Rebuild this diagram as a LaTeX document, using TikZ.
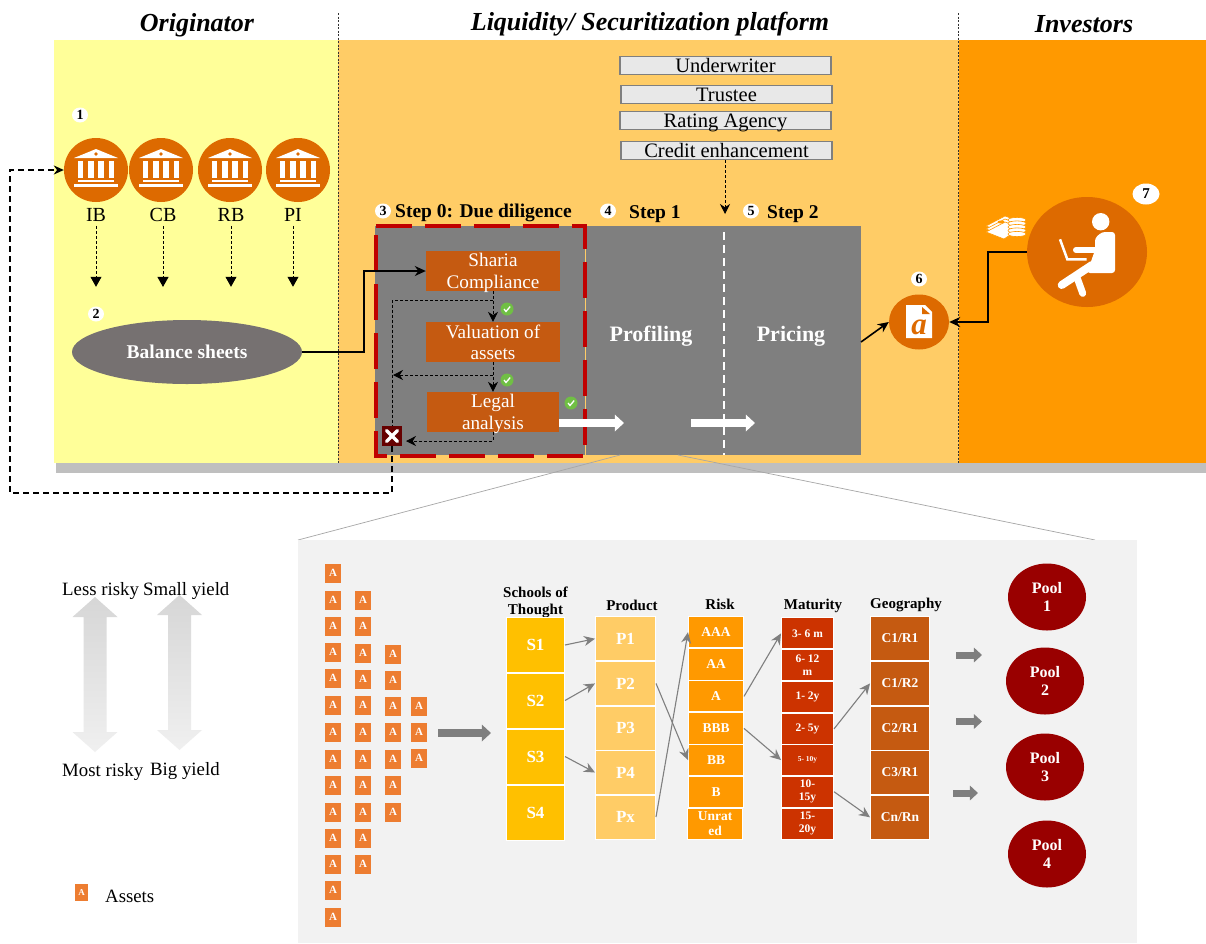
\documentclass[tikz,border=0pt]{standalone}
\usepackage{fontspec}
\setmainfont{Liberation Serif}
\usepackage{tikz}
\usetikzlibrary{arrows.meta,shapes.geometric}

\definecolor{originbg}{HTML}{FFFF99}
\definecolor{platbg}{HTML}{FFCC66}
\definecolor{investbg}{HTML}{FF9900}
\definecolor{burnt}{HTML}{DD6A00}
\definecolor{rust}{HTML}{C55A11}
\definecolor{slate}{HTML}{7F7F7F}
\definecolor{ballgrey}{HTML}{767171}
\definecolor{dashred}{HTML}{C00000}
\definecolor{panel}{HTML}{F2F2F2}
\definecolor{tickgreen}{HTML}{70BF44}
\definecolor{assetor}{HTML}{ED7D31}
\definecolor{poolred}{HTML}{990000}
\definecolor{matred}{HTML}{CC3300}
\definecolor{schoolgold}{HTML}{FFC000}
\newcommand{\fsz}[1]{\fontsize{#1}{1.12\dimexpr#1pt\relax}\selectfont}

\begin{document}
\begin{tikzpicture}[x=1pt,y=-1pt,>={Stealth[length=9pt,width=8pt]},
  title node/.style={font=\fsz{26}\bfseries\itshape},
  step node/.style={font=\fsz{19.5}\bfseries,anchor=west,inner sep=0pt},
  num node/.style={ellipse,fill=white,inner sep=0pt,minimum width=16pt,minimum height=15pt,font=\fsz{14}\bfseries},
  party node/.style={draw=slate,line width=1.5pt,fill=gray!18,minimum width=211pt,inner sep=0pt,text height=16.2pt,text depth=2pt,font=\fsz{20.5}},
  bank node/.style={circle,fill=burnt,minimum size=64pt,inner sep=0pt},
  label node/.style={font=\fsz{20},inner sep=4pt},
  check node/.style={fill=rust,minimum width=134pt,minimum height=40pt,inner sep=0pt,align=center,text=white,text depth=-2pt,font=\fsz{19.2}},
  cell/.style={draw=white,line width=1pt,inner sep=0pt,align=center,text=white,font=\fsz{17}\bfseries},
  head node/.style={font=\fsz{15}\bfseries,align=center,inner sep=0pt},
  asset/.style={fill=assetor,minimum width=16pt,minimum height=19pt,inner sep=0pt,text=white,font=\fsz{11}\bfseries},
  pool node/.style={ellipse,fill=poolred,minimum width=78pt,minimum height=67pt,inner sep=0pt,align=center,text=white,font=\fsz{16}\bfseries},
  text node/.style={font=\fsz{18.8},anchor=west,inner sep=0pt},
  thin dash/.style={dash pattern=on 3pt off 2pt,line width=0.9pt,>={Stealth[length=10pt,width=10pt]}},
  long dash/.style={dash pattern=on 6pt off 4pt,line width=1.2pt,>={Stealth[length=10pt,width=9pt]}},
  solid link/.style={->,line width=1.6pt,>={Stealth[length=11pt,width=10pt]}},
  grey link/.style={->,slate,line width=1.1pt,>={Stealth[length=11pt,width=10pt]}},
  block arrow/.style={-{Triangle[length=#1*1.15pt,width=#1*2.05pt]},line width=#1*1pt}]

  \useasboundingbox (0,0) rectangle (1206,943);
  \fill[white] (0,0) rectangle (1206,943);

  % backgrounds
  \fill[originbg] (54,40) rectangle (338,463);
  \fill[platbg] (338,40) rectangle (959,463);
  \fill[investbg] (959,40) rectangle (1206,463);
  \fill[black!25] (56,463) rectangle (1206,473);
  \draw[dash pattern=on 2pt off 1.5pt,line width=0.7pt,draw=black!80] (338,13) -- (338,463);
  \draw[dash pattern=on 2pt off 1.5pt,line width=0.7pt,draw=black!80] (958,13) -- (958,463);

  \node[title node] (originator) at (197,25) {Originator};
  \node[title node] (platform) at (650,24.5) {Liquidity/ Securitization platform};
  \node[title node] (investors) at (1084,24) {Investors};

  % parties on the platform
  \node[party node] (under) at (725.5,65.5) {Underwriter};
  \node[party node] (trustee) at (726.5,94.5) {Trustee};
  \node[party node] (rating) at (725.5,120.5) {Rating Agency};
  \node[party node] (credit) at (726.5,150.5) {Credit enhancement};

  % grey working area
  \fill[slate] (375,226) rectangle (861,455);
  \draw[platbg,line width=1pt] (585.5,226) -- (585.5,455);
  \draw[white,dash pattern=on 8pt off 5pt,line width=2pt] (724,232) -- (724,455);
  \node[minimum width=208.7pt,minimum height=229.4pt,inner sep=0pt] (duebox) at (480.3,341) {};
  \draw[dashred,dash pattern=on 36pt off 13pt,line width=4pt] (duebox.north west) -- (duebox.north east) -- (duebox.south east) -- (duebox.south west) -- cycle;
  \coordinate (stepline) at (725,214);
  \draw[thin dash,->] (credit.south -| stepline) -- (stepline);

  \node[num node] (n3) at (383,211) {3};
  \node[step node] (step0) at (395,213) {Step 0: Due diligence};
  \node[num node] (n4) at (608,211) {4};
  \node[step node] (step1) at (629,214) {Step 1};
  \node[num node] (n5) at (751,211) {5};
  \node[step node] (step2) at (767,214) {Step 2};
  \node[font=\fsz{22}\bfseries,text=white] (profiling) at (651,336) {Profiling};
  \node[font=\fsz{22}\bfseries,text=white] (pricing) at (791,336) {Pricing};

  % originator
  \node[num node] (n1) at (80,115) {1};
  \foreach \name/\x/\lx/\txt in {ib/96/96/IB,cb/161/163/CB,rb/230/231/RB,pi/298/293/PI}{
    \node[bank node] (\name) at (\x,170) {};
    \begin{scope}[shift={(\x,170)},white]
      \fill (-22,-12) -- (0,-21) -- (22,-12) -- cycle;
      \fill[burnt] (0,-16) circle (1.8pt);
      \foreach \c in {-15.5,-5.2,5.2,15.5} \fill (\c-2.8,-9) rectangle (\c+2.8,8);
      \fill (-18,10) rectangle (18,12);
      \fill (-22,14) rectangle (22,17);
    \end{scope}
    \node[label node] (\name lab) at (\lx,215) {\txt};
    \draw[thin dash,->,>={Triangle[length=10pt,width=11pt]}] (\name lab.south) -- ++(0,61);
  }
  \node[num node] (n2) at (96,314) {2};
  \node[ellipse,fill=ballgrey,minimum width=230pt,minimum height=64pt,inner sep=0pt,text=white,font=\fsz{19.5}\bfseries] (balance) at (187,352) {Balance sheets};

  % due diligence
  \node[check node] (sharia) at (493,271) {Sharia\\Compliance};
  \node[check node] (valuation) at (493,342) {Valuation of\\assets};
  \node[check node,minimum width=132pt] (legal) at (493,412) {Legal\\analysis};
  \node[fill=black!60!red,minimum size=20pt,inner sep=0pt] (reject) at (392,436) {};
  \draw[white,line width=3.5pt,line cap=round] (386.5,430.5) -- (397.5,441.5);
  \draw[white,line width=3.5pt,line cap=round] (397.5,430.5) -- (386.5,441.5);
  \foreach \name/\x/\y in {tick1/507/309,tick2/507/380,tick3/571/403}{
    \node[circle,fill=tickgreen,minimum size=13pt,inner sep=0pt] (\name) at (\x,\y) {};
    \draw[white,line width=1.3pt] (\x-3,\y) -- (\x-1,\y+2.5) -- (\x+3.2,\y-2.5);
  }
  \coordinate (fork1) at (493,300.5);
  \coordinate (fork2) at (493,375);
  \coordinate (fail2) at (393,375);
  \coordinate (fail3) at (406,441);
  \coordinate (backcorner) at (10,493);
  \draw[solid link] (balance.east) -- ++(62,0) |- (sharia.west);
  \draw[thin dash,->] (sharia.south) -- (valuation.north);
  \draw[thin dash] (fork1) -| (reject.north);
  \draw[thin dash,->] (valuation.south) -- (legal.north);
  \draw[thin dash,->] (fork2) -- (fail2);
  \draw[thin dash,->] (legal.south) |- (fail3);
  \draw[long dash,->] (reject.south) |- (backcorner) |- (ib.west);

  % white flow arrows
  \coordinate (flow1a) at (559,423);
  \coordinate (flow1b) at (624,423);
  \coordinate (flow2a) at (691,423);
  \coordinate (flow2b) at (755,423);
  \draw[white,block arrow=8] (flow1a) -- (flow1b);
  \draw[white,block arrow=8] (flow2a) -- (flow2b);

  % term sheet
  \node[ellipse,fill=burnt,minimum width=60pt,minimum height=55pt,inner sep=0pt] (doc) at (919,322) {};
  \fill[white] (906,305) -- (925,305) -- (932,312) -- (932,338) -- (906,338) -- cycle;
  \fill[burnt] (922,307) -- (922,314) -- (930,314) -- cycle;
  \node[text=burnt,font=\fsz{31}\bfseries\itshape,inner sep=0pt] (docletter) at (919,327.5) {a};
  \node[num node] (n6) at (919,279) {6};
  \coordinate (pricingout) at (861,342);
  \draw[solid link] (pricingout) -- (doc.west);

  % investor
  \node[ellipse,fill=burnt,minimum width=120pt,minimum height=110pt,inner sep=0pt] (investor) at (1087,252) {};
  \begin{scope}[white]
    \fill (1100.7,221.7) circle (8.7pt);
    \fill[rounded corners=3pt] (1095,238) -- (1102,232) -- (1115,232) -- (1115,273) -- (1087,273) -- (1095,250) -- cycle;
    \draw[line width=6pt,line cap=round] (1076,250) -- (1100,250);
    \draw[line width=2.5pt] (1060,239.3) -- (1067.3,259.3) -- (1086.7,259.3);
    \draw[line width=8pt,line cap=round] (1092,265) -- (1061.7,285);
    \draw[line width=7pt,line cap=round] (1076.7,276.7) -- (1082.7,293.3);
  \end{scope}
  \foreach \d in {0,3,6}{
    \filldraw[fill=white,draw=investbg,line width=0.6pt] (986,226+\d) -- (1005,216+\d) -- (1016,220+\d) -- (1016,225+\d) -- (1004,233+\d) -- cycle;
  }
  \fill[investbg] (1001,222) ellipse (3.5pt and 1.5pt);
  \foreach \d in {0,3.5,7,10.5,14}
    \filldraw[fill=white,draw=investbg,line width=0.6pt] (1017,220+\d) ellipse (9pt and 2.6pt);
  \node[num node,minimum width=27pt,minimum height=21pt,font=\fsz{15}\bfseries] (n7) at (1146,194) {7};
  \draw[solid link] (investor.west) -- ++(-39,0) |- (doc.east);

  % zoom panel
  \coordinate (zoomL) at (298,540);
  \coordinate (zoomR) at (1095,540);
  \coordinate (zoomA) at (620,455);
  \coordinate (zoomB) at (678,455);
  \draw[black!35,line width=0.7pt] (zoomA) -- (zoomL);
  \draw[black!35,line width=0.7pt] (zoomB) -- (zoomR);
  \fill[panel] (298,540) rectangle (1137,943);

  % risk and yield legends
  \foreach \x/\y in {95/597,179.5/595}{
    \shade[top color=black!16,bottom color=black!6] (\x,\y) -- (\x+22.5,\y+20) -- (\x+11.5,\y+20) -- (\x+11.5,\y+135) -- (\x+22.5,\y+135) -- (\x,\y+155) -- (\x-22.5,\y+135) -- (\x-11.5,\y+135) -- (\x-11.5,\y+20) -- (\x-22.5,\y+20) -- cycle;
  }
  \node[text node] (lessrisky) at (62,591) {Less risky};
  \node[text node] (smallyield) at (143,591) {Small yield};
  \node[text node] (mostrisky) at (62,772) {Most risky};
  \node[text node] (bigyield) at (150,771) {Big yield};
  \node[asset,minimum width=13pt,minimum height=17pt,font=\fsz{9}\bfseries] (legendasset) at (81.5,892.5) {A};
  \node[text node] (assetslab) at (105,896.5) {Assets};

  % assets
  \foreach \x/\rows in {333/{573,600,626,652,678,705,732,759,785,812,838,864,890,917},
      363/{600,626,653,679,705,732,759,785,812,838,864},
      393/{654,680,706,732,759,785,812},
      419/{706,732,758}}{
    \foreach \y in \rows
      \node[asset] (a\x\y) at (\x,\y) {A};
  }
  \coordinate (assetsout) at (438,733);
  \coordinate (assetsin) at (491,733);
  \draw[slate,block arrow=8] (assetsout) -- (assetsin);

  % columns of the sorting funnel
  \node[head node] (schools) at (535.5,602) {Schools of\\Thought};
  \node[head node] (product) at (632,605.5) {Product};
  \node[head node] (risk) at (720,604.5) {Risk};
  \node[head node] (maturity) at (813,605.5) {Maturity};
  \node[head node] (geography) at (906,605) {Geography};

  \foreach \name/\y/\txt in {s1/645/S1,s2/700.5/S2,s3/756.5/S3,s4/812.5/S4}
    \node[cell,fill=schoolgold,minimum width=58pt,minimum height=55pt] (\name) at (535.5,\y) {\txt};
  \foreach \name/\y/\txt in {p1/638.7/P1,p2/683.4/P2,p3/728/P3,p4/772.5/P4,px/817/Px}
    \node[cell,fill=platbg,minimum width=60pt,minimum height=44pt] (\name) at (625.5,\y) {\txt};
  \foreach \name/\x/\y/\h/\txt in {raaa/716/632.2/31.5/AAA,raa/716/664.5/31.5/AA,ra/716/696.4/31/A,rbbb/716/728.4/32/BBB,rbb/716/760/31/BB,rb1/716/791.7/31/B,runr/715/823.5/31/{Unrat\\ed}}
    \node[cell,fill=investbg,font=\fsz{13.5}\bfseries,minimum width=55pt,minimum height=\h pt] (\name) at (\x,\y) {\txt};
  \foreach \name/\y/\txt in {m1/633.4/3- 6 m,m2/665/{6- 12\\m},m3/696.9/1- 2y,m4/728.9/2- 5y,m5/760/{\fsz{7.5}5- 10y},m6/791.7/{10-\\15y},m7/823.5/{15-\\20y}}
    \node[cell,fill=matred,font=\fsz{11.5}\bfseries,minimum width=52pt,minimum height=31pt] (\name) at (807.5,\y) {\txt};
  \foreach \name/\y/\txt in {c1/638.4/{C1/R1},c2/683.4/{C1/R2},c3/728/{C2/R1},c4/772.5/{C3/R1},c5/817.3/{Cn/Rn}}
    \node[cell,fill=rust,font=\fsz{13.5}\bfseries,minimum width=59pt,minimum height=44pt] (\name) at (900,\y) {\txt};

  \path[grey link]
    (s1.east) edge (p1.west)
    (s2.east) edge (p2.west)
    (s3.east) edge (p4.west)
    (p2.east) edge (rbb.west)
    (px.east) edge (raaa.west)
    (ra.east) edge (m1.west)
    (rbbb.east) edge (m5.west)
    (m4.east) edge (c2.west)
    (m6.east) edge (c5.west);

  % pools
  \foreach \name/\x/\y/\num in {pool1/1047/597/1,pool2/1045/681/2,pool3/1045/767/3,pool4/1047/854/4}
    \node[pool node] (\name) at (\x,\y) {Pool\\\num};
  \foreach \name/\xa/\xb/\y in {pa/956/982/655,pb/956/982/721.5,pc/953/978/793}{
    \coordinate (\name a) at (\xa,\y);
    \coordinate (\name b) at (\xb,\y);
    \draw[slate,block arrow=7] (\name a) -- (\name b);
  }
\end{tikzpicture}
\end{document}
